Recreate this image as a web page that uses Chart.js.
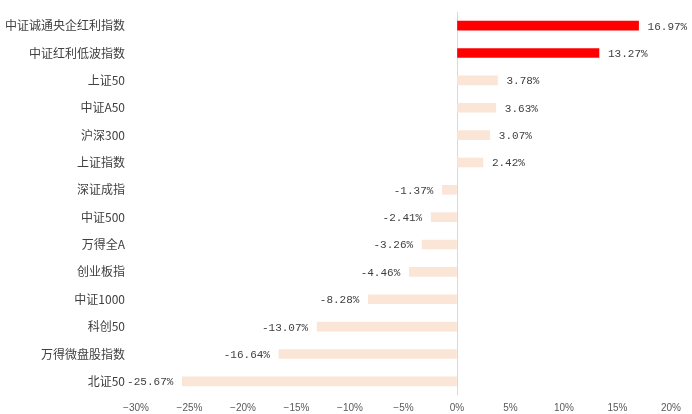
<!DOCTYPE html>
<html><head><meta charset="utf-8">
<script src="https://cdn.jsdelivr.net/npm/chart.js@4.4.1/dist/chart.umd.min.js"></script>
<style>html,body{margin:0;padding:0;background:#fff}#w{width:692px;height:414px}</style>
</head><body><div id="w"><canvas id="c"></canvas></div>
<script>
const categories = ["中证诚通央企红利指数","中证红利低波指数","上证50","中证A50","沪深300","上证指数","深证成指","中证500","万得全A","创业板指","中证1000","科创50","万得微盘股指数","北证50"];
const values = [16.97,13.27,3.78,3.63,3.07,2.42,-1.37,-2.41,-3.26,-4.46,-8.28,-13.07,-16.64,-25.67];
const highlighted = [true,true,false,false,false,false,false,false,false,false,false,false,false,false];
const xTicks = [-30,-25,-20,-15,-10,-5,0,5,10,15,20];

const labelPlugin = {
  id:'vals',
  afterDatasetsDraw(chart){
    const ctx = chart.ctx;
    const meta = chart.getDatasetMeta(0);
    ctx.save();
    ctx.font = '11px "Liberation Mono", "DejaVu Sans Mono", monospace';
    ctx.fillStyle = '#404040';
    ctx.textBaseline = 'middle';
    meta.data.forEach((bar,i)=>{
      const v = values[i];
      const txt = v.toFixed(2) + '%';
      if (v >= 0) { ctx.textAlign='left'; ctx.fillText(txt, bar.x + 9, bar.y + 1); }
      else { ctx.textAlign='right'; ctx.fillText(txt, bar.x - 9, bar.y + 1); }
    });
    ctx.restore();
  }
};

new Chart(document.getElementById('c'), {
  type:'bar',
  data:{
    labels: categories,
    datasets:[{
      data: values,
      backgroundColor: highlighted.map(h => h ? '#FF0000' : '#FBE5D6'),
      barThickness: 9,
      borderWidth: 0
    }]
  },
  options:{
    indexAxis:'y',
    responsive:true,
    maintainAspectRatio:false,
    animation:false,
    layout:{padding:{top:12,right:21,bottom:0,left:0}},
    plugins:{legend:{display:false},tooltip:{enabled:false}},
    scales:{
      x:{
        min:-30,max:20,
        afterBuildTicks(axis){ axis.ticks = xTicks.map(v=>({value:v})); },
        afterFit(axis){ axis.height = 19; axis.paddingLeft = 0; axis.paddingRight = 0; },
        border:{display:false},
        grid:{drawTicks:false, color: c => c.tick && c.tick.value === 0 ? '#D9D9D9' : 'rgba(0,0,0,0)', lineWidth:1},
        ticks:{padding:7, color:'#595959', font:{size:10,family:'"Liberation Sans", "DejaVu Sans", sans-serif'}, maxRotation:0, callback:v => (v<0?'−':'') + Math.abs(v) + '%'}
      },
      y:{
        afterFit(axis){ axis.width = 136; axis.paddingTop = 0; axis.paddingBottom = 0; },
        border:{display:false},
        grid:{display:false, drawTicks:false},
        ticks:{padding:11, color:'#404040', font:{size:12,family:'"Noto Sans CJK SC", sans-serif'}, autoSkip:false}
      }
    }
  },
  plugins:[labelPlugin]
});
</script>
</body></html>
